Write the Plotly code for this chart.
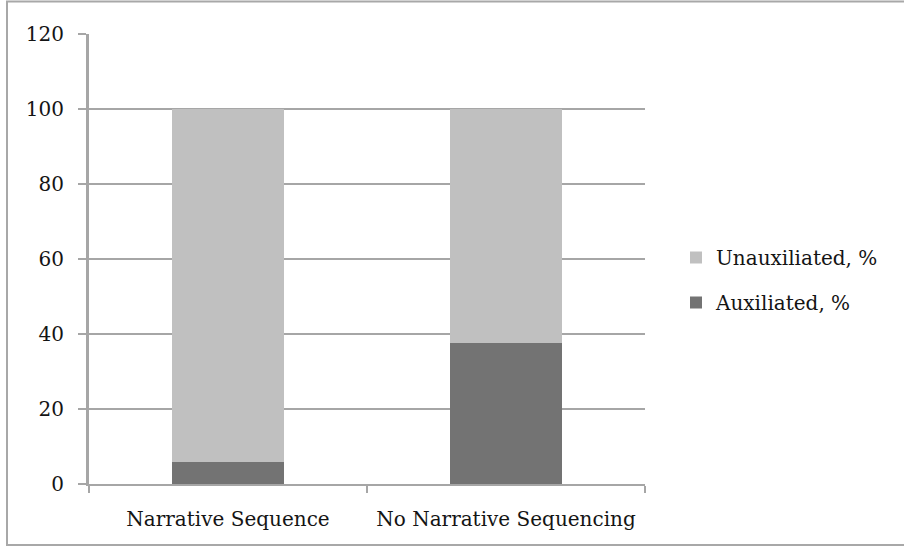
import plotly.graph_objects as go

categories = ["Narrative Sequence", "No Narrative Sequencing"]
auxiliated = [6, 37.5]
unauxiliated = [94, 62.5]

W, H = 904, 547
L, R, T, B = 89, 259, 34, 63
pw, ph = W - L - R, H - T - B

font_family = "DejaVu Serif"
axis_grey = "#a6a6a6"
text_col = "#141414"

fig = go.Figure()
fig.add_trace(go.Bar(
    x=categories, y=auxiliated, name="Auxiliated, %",
    marker=dict(color="#737373", line=dict(width=0)),
    legendgroup="a", legendrank=2, width=0.4,
))
fig.add_trace(go.Bar(
    x=categories, y=unauxiliated, name="Unauxiliated, %",
    marker=dict(color="#c0c0c0", line=dict(width=0)),
    legendgroup="u", legendrank=1, width=0.4,
))

# outer frame around the chart
fx0 = (7 - L) / pw
fx1 = (W + 10 - L) / pw
fy1 = 1 + (T - 1.5) / ph
fy0 = -(H - 2 - (T + ph)) / ph
fig.add_shape(type="rect", xref="paper", yref="paper",
              x0=fx0, x1=fx1, y0=fy0, y1=fy1,
              line=dict(color="#a8a8a8", width=2), layer="below")

fig.update_layout(
    width=W, height=H,
    margin=dict(l=L, r=R, t=T, b=B, pad=0),
    barmode="stack",
    plot_bgcolor="white", paper_bgcolor="white",
    font=dict(family=font_family, size=20, color=text_col),
    showlegend=True,
    legend=dict(
        x=(676 - L) / pw, y=1 - (238 - T) / ph,
        xanchor="left", yanchor="top",
        traceorder="grouped", tracegroupgap=16,
        font=dict(family=font_family, size=20, color=text_col),
        bgcolor="rgba(0,0,0,0)", itemwidth=30,
    ),
    xaxis=dict(
        showline=True, linecolor=axis_grey, linewidth=2,
        ticks="outside", tickson="boundaries", ticklen=7,
        tickcolor=axis_grey, tickwidth=1.5,
        showgrid=False, tickfont=dict(size=20),
        ticklabelstandoff=16,
    ),
    yaxis=dict(
        range=[0, 120], dtick=20,
        showline=True, linecolor=axis_grey, linewidth=3,
        ticks="outside", ticklen=8, tickcolor=axis_grey, tickwidth=2,
        showgrid=True, gridcolor=axis_grey, gridwidth=2,
        zeroline=False, tickfont=dict(size=20),
        ticklabelstandoff=10,
    ),
)

fig.write_html("out.html")
